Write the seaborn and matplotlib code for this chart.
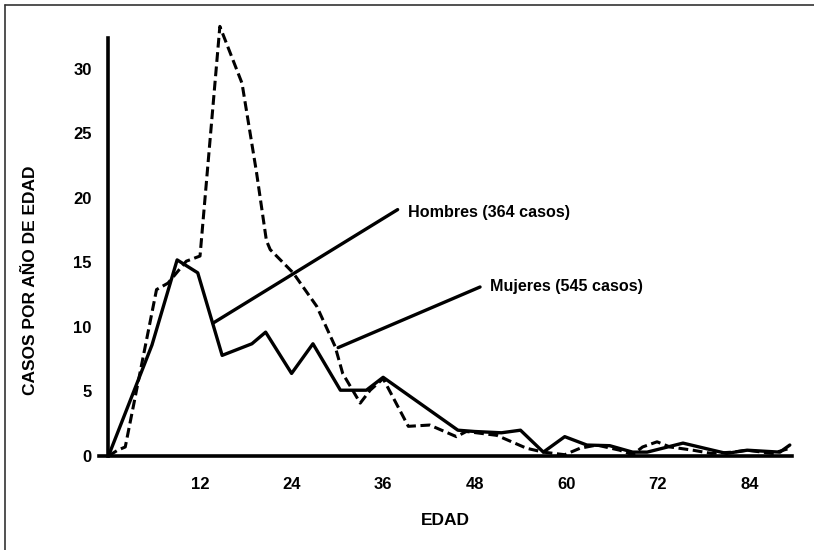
import matplotlib
matplotlib.use("Agg")
import matplotlib.pyplot as plt
import seaborn as sns
import pandas as pd
from matplotlib.lines import Line2D

# ---- data ----
edad_hombres = [0, 5.7, 9, 11.7, 14.9, 18.8, 20.6, 24, 26.8, 30.4, 33.8, 36,
                45.8, 48, 51.5, 54, 57, 59.8, 62.7, 65.7, 68.7, 70.6, 75.3,
                79.2, 81, 83.7, 88, 89.3]
casos_hombres = [0, 8.6, 15.2, 14.2, 7.8, 8.7, 9.6, 6.4, 8.7, 5.1, 5.1, 6.1,
                 2.0, 1.9, 1.8, 2.0, 0.3, 1.5, 0.85, 0.8, 0.3, 0.3, 1.0,
                 0.45, 0.2, 0.45, 0.3, 0.85]

edad_mujeres = [0, 1.2, 2.2, 6.3, 7.8, 10.2, 12, 14.6, 17.5, 19.4, 20.7, 21.2,
                24.2, 27.3, 29.7, 30.7, 33, 34.3, 36, 39.3, 42.1, 45.6, 46.9,
                50.9, 54.8, 57, 59.8, 61.8, 64, 67, 68.7, 70, 71.9, 73.6, 76.6,
                79, 81.8, 83.7, 87, 89.3]
casos_mujeres = [0, 0.45, 0.7, 12.9, 13.4, 15.1, 15.5, 33.3, 28.9, 22.0, 16.7,
                 16.0, 14.2, 11.6, 8.5, 6.4, 4.1, 5.1, 6.0, 2.3, 2.4, 1.5, 1.9,
                 1.6, 0.6, 0.3, 0.1, 0.6, 0.85, 0.45, 0.1, 0.7, 1.1, 0.7, 0.45,
                 0.2, 0.3, 0.45, 0.2, 0.6]

x_ticks = [12, 24, 36, 48, 60, 72, 84]
y_ticks = [0, 5, 10, 15, 20, 25, 30]

label_hombres = "Hombres (364 casos)"
label_mujeres = "Mujeres (545 casos)"
# leader lines: (start point on curve) -> (end near label)
lead_hombres = ([13.7, 37.9], [10.3, 19.1])
lead_mujeres = ([30.1, 48.7], [8.4, 13.1])

sns.set_theme(style="white")
plt.rcParams["font.family"] = ["Liberation Sans", "DejaVu Sans"]
plt.rcParams["font.weight"] = "bold"

fig = plt.figure(figsize=(8.14, 5.5), dpi=100)
ax = fig.add_axes([0.1220, 0.1709, 0.8511, 0.76])

df_h = pd.DataFrame({"edad": edad_hombres, "casos": casos_hombres})
df_m = pd.DataFrame({"edad": edad_mujeres, "casos": casos_mujeres})

sns.lineplot(data=df_m, x="edad", y="casos", ax=ax, color="black",
             linewidth=2.2, sort=False, clip_on=False)
ax.lines[-1].set_dashes((3.2, 1.5))
sns.lineplot(data=df_h, x="edad", y="casos", ax=ax, color="black",
             linewidth=2.4, sort=False, clip_on=False)

ax.plot(*lead_hombres, color="black", linewidth=2.4, solid_capstyle="round")
ax.plot(*lead_mujeres, color="black", linewidth=2.4, solid_capstyle="round")
ax.text(39.25, 18.84, label_hombres, fontsize=11.6, va="center", ha="left",
        color="black", fontweight="bold")
ax.text(50.0, 13.1, label_mujeres, fontsize=11.6, va="center", ha="left",
        color="black", fontweight="bold")

ax.set_xlim(-1.2, 89.6)
ax.set_ylim(0, 32.4)
ax.spines["left"].set_position(("data", 0))
for s in ["top", "right"]:
    ax.spines[s].set_visible(False)
for s in ["left", "bottom"]:
    ax.spines[s].set_color("black")
    ax.spines[s].set_linewidth(2.6)

ax.set_xticks(x_ticks)
ax.set_yticks(y_ticks)
ax.set_xticklabels([str(t) for t in x_ticks], fontweight="bold")
ax.set_yticklabels([str(t) for t in y_ticks], fontweight="bold")
ax.tick_params(axis="both", which="major", direction="out", colors="black",
               labelsize=12, width=2.4)
ax.tick_params(axis="y", length=6, pad=6)
ax.tick_params(axis="x", length=5, pad=10)

ax.set_xlabel("EDAD", fontsize=12.5, color="black", labelpad=15,
              fontweight="bold")
ax.set_ylabel("CASOS POR AÑO DE EDAD", fontsize=12.5, color="black",
              fontweight="bold")
ax.yaxis.set_label_coords(-0.0885, 0.421)
ax.grid(False)

# page frame: top and left edges
fig.add_artist(Line2D([5 / 814, 1.0], [1 - 5 / 550, 1 - 5 / 550],
                      transform=fig.transFigure, color="#333333", linewidth=1.2))
fig.add_artist(Line2D([5 / 814, 5 / 814], [0, 1 - 5 / 550],
                      transform=fig.transFigure, color="#333333", linewidth=1.2))

fig.savefig("out.png", dpi=100)
